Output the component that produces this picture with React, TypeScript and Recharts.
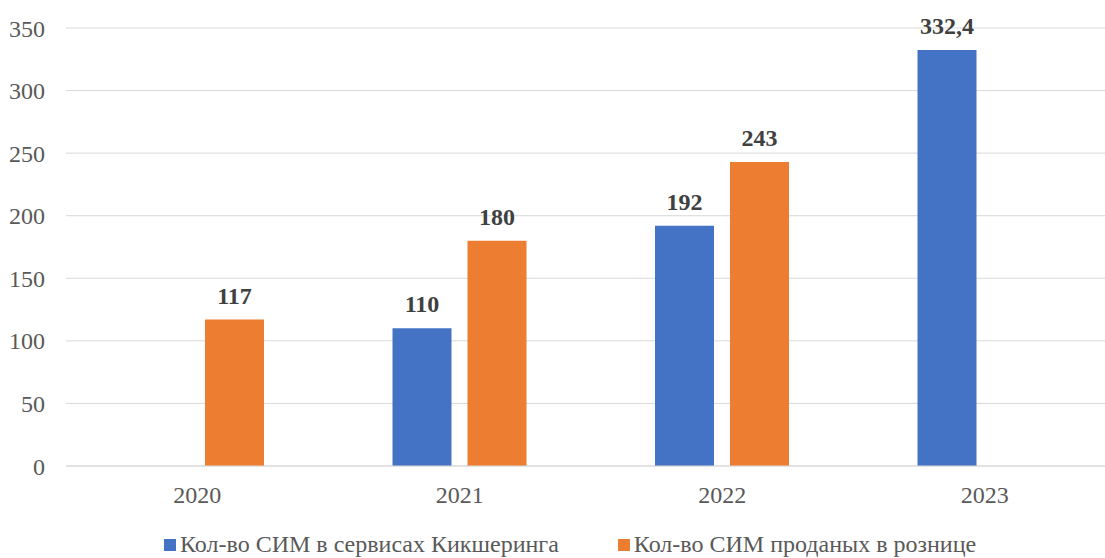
import { Bar, BarChart, CartesianGrid, LabelList, XAxis, YAxis } from "recharts";

const BLUE = "#4472C4";
const ORANGE = "#ED7D31";
const FONT = '"Liberation Serif"';
const FS = 24;

const YEARS = ["2020", "2021", "2022", "2023"];
const KICKSHARING = [null, 110, 192, 332.4];
const RETAIL = [117, 180, 243, null];
const Y_TICKS = [0, 50, 100, 150, 200, 250, 300, 350];

const SERIES_NAMES = {
  kick: "Кол-во СИМ в сервисах Кикшеринга",
  retail: "Кол-во СИМ проданых в рознице",
};

const data = YEARS.map((year, i) => ({
  year,
  kick: KICKSHARING[i],
  retail: RETAIL[i],
}));

const fmt = (v: unknown) =>
  v === null || v === undefined ? "" : String(v).replace(".", ",");

const labelStyle = { fontSize: FS, fontWeight: 700, fill: "#404040", fontFamily: FONT };
const tickStyle = { fontSize: FS, fill: "#595959", fontFamily: FONT };

export default function App() {
  return (
    <div
      style={{
        position: "absolute",
        left: 0,
        top: 0,
        width: 1105,
        height: 558,
        overflow: "hidden",
        background: "#fff",
        fontFamily: FONT,
      }}
    >
      <BarChart
        width={1116}
        height={558}
        data={data}
        margin={{ top: 28, right: 0, bottom: 0, left: 0 }}
        barSize={59}
        barGap={16}
        style={{ fontFamily: FONT }}
      >
        <CartesianGrid vertical={false} stroke="#d9d9d9" strokeWidth={1} />
        <XAxis
          dataKey="year"
          height={92}
          axisLine={{ stroke: "#d9d9d9" }}
          tickLine={false}
          tickSize={0}
          tickMargin={20}
          tick={tickStyle}
        />
        <YAxis
          width={66}
          domain={[0, 350]}
          ticks={Y_TICKS}
          axisLine={false}
          tickLine={false}
          tickSize={0}
          tickMargin={21}
          tick={tickStyle}
        />
        <Bar dataKey="kick" fill={BLUE} isAnimationActive={false}>
          <LabelList dataKey="kick" position="top" offset={16} formatter={fmt} style={labelStyle} />
        </Bar>
        <Bar dataKey="retail" fill={ORANGE} isAnimationActive={false}>
          <LabelList dataKey="retail" position="top" offset={16} formatter={fmt} style={labelStyle} />
        </Bar>
      </BarChart>

      {/* legend, placed like the original */}
      <div
        style={{
          position: "absolute",
          left: 164,
          top: 531,
          display: "flex",
          alignItems: "center",
          gap: 59,
          fontSize: FS,
          fontFamily: FONT,
          color: "#595959",
          whiteSpace: "nowrap",
        }}
      >
        <div style={{ display: "flex", alignItems: "center", gap: 4 }}>
          <span style={{ display: "inline-block", width: 12, height: 12, background: BLUE }} />
          <span>{SERIES_NAMES.kick}</span>
        </div>
        <div style={{ display: "flex", alignItems: "center", gap: 4 }}>
          <span style={{ display: "inline-block", width: 12, height: 12, background: ORANGE }} />
          <span>{SERIES_NAMES.retail}</span>
        </div>
      </div>
    </div>
  );
}
